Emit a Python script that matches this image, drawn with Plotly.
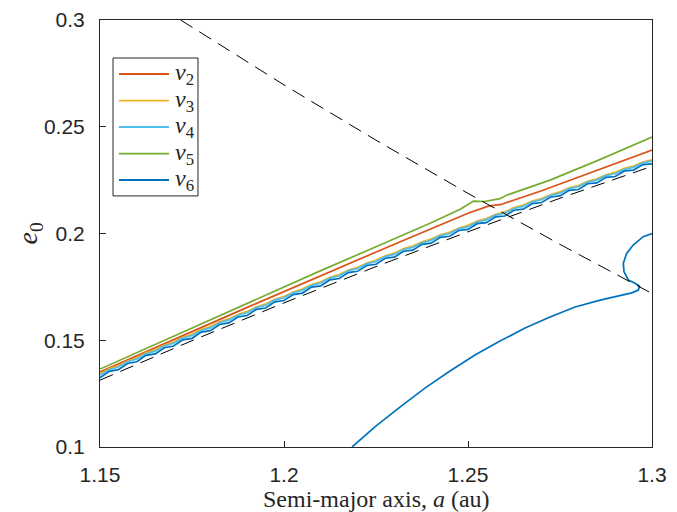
import plotly.graph_objects as go

# Semi-major axis grid for the resonance curves that follow the perihelion line
a_grid = [1.15, 1.1525, 1.155, 1.1575, 1.16, 1.1625, 1.165, 1.1675, 1.17, 1.1725,
          1.175, 1.1775, 1.18, 1.1825, 1.185, 1.1875, 1.19, 1.1925, 1.195, 1.1975,
          1.20, 1.2025, 1.205, 1.2075, 1.21, 1.2125, 1.215, 1.2175, 1.22, 1.2225,
          1.225, 1.2275, 1.23, 1.2325, 1.235, 1.2375, 1.24, 1.2425, 1.245, 1.2475,
          1.25, 1.2525, 1.255, 1.2575, 1.26, 1.2625, 1.265, 1.2675, 1.27, 1.2725,
          1.275, 1.2775, 1.28, 1.2825, 1.285, 1.2875, 1.29, 1.2925, 1.295, 1.2975, 1.30]

nu3_e = [0.1343, 0.1366, 0.1381, 0.1403, 0.1418, 0.1441, 0.1455, 0.1477, 0.1492, 0.1514,
         0.1528, 0.1550, 0.1564, 0.1586, 0.1600, 0.1621, 0.1635, 0.1657, 0.1670, 0.1692,
         0.1705, 0.1726, 0.1740, 0.1761, 0.1774, 0.1795, 0.1808, 0.1829, 0.1842, 0.1862,
         0.1875, 0.1896, 0.1908, 0.1929, 0.1941, 0.1961, 0.1974, 0.1994, 0.2006, 0.2026,
         0.2038, 0.2058, 0.2070, 0.2090, 0.2101, 0.2121, 0.2133, 0.2152, 0.2164, 0.2183,
         0.2195, 0.2214, 0.2225, 0.2245, 0.2256, 0.2275, 0.2286, 0.2305, 0.2316, 0.2335, 0.2345]

nu4_e = [0.1337, 0.1362, 0.1375, 0.1399, 0.1412, 0.1437, 0.1449, 0.1473, 0.1486, 0.1510,
         0.1522, 0.1546, 0.1558, 0.1582, 0.1594, 0.1617, 0.1629, 0.1653, 0.1664, 0.1688,
         0.1699, 0.1722, 0.1734, 0.1757, 0.1768, 0.1791, 0.1802, 0.1825, 0.1836, 0.1858,
         0.1869, 0.1892, 0.1902, 0.1925, 0.1935, 0.1957, 0.1968, 0.1990, 0.2000, 0.2022,
         0.2032, 0.2054, 0.2064, 0.2086, 0.2095, 0.2117, 0.2127, 0.2148, 0.2158, 0.2179,
         0.2189, 0.2210, 0.2219, 0.2241, 0.2250, 0.2271, 0.2280, 0.2301, 0.2310, 0.2331, 0.2339]

nu6_upper_e = [0.1324, 0.1354, 0.1362, 0.1391, 0.1399, 0.1429, 0.1436, 0.1465, 0.1473, 0.1502,
               0.1509, 0.1538, 0.1545, 0.1574, 0.1581, 0.1609, 0.1616, 0.1645, 0.1651, 0.1680,
               0.1686, 0.1714, 0.1721, 0.1749, 0.1755, 0.1783, 0.1789, 0.1817, 0.1823, 0.1850,
               0.1856, 0.1884, 0.1889, 0.1917, 0.1922, 0.1949, 0.1955, 0.1982, 0.1987, 0.2014,
               0.2019, 0.2046, 0.2051, 0.2078, 0.2082, 0.2109, 0.2114, 0.2140, 0.2145, 0.2171,
               0.2176, 0.2202, 0.2206, 0.2233, 0.2237, 0.2263, 0.2267, 0.2293, 0.2297, 0.2323, 0.2326]

# Second branch of nu6 (lower arc and hook near a = 1.3)
nu6_lower_a = [1.2185, 1.2247, 1.2315, 1.2383, 1.2451, 1.2519, 1.2587, 1.2655, 1.2723, 1.2791,
               1.2859, 1.2913, 1.2945, 1.2963, 1.2966, 1.2954, 1.2936, 1.2924, 1.2922, 1.2931,
               1.2949, 1.2976, 1.3000]
nu6_lower_e = [0.1000, 0.1094, 0.1187, 0.1276, 0.1356, 0.1431, 0.1496, 0.1557, 0.1609, 0.1656,
               0.1688, 0.1710, 0.1722, 0.1735, 0.1754, 0.1767, 0.1782, 0.1821, 0.1860, 0.1907,
               0.1946, 0.1985, 0.2000]

nu2_a = [1.15, 1.19, 1.23, 1.25, 1.2555, 1.2590, 1.2700, 1.2850, 1.30]
nu2_e = [0.1352, 0.1654, 0.1950, 0.2095, 0.2128, 0.2136, 0.2200, 0.2295, 0.2391]

nu5_a = [1.15, 1.17, 1.19, 1.21, 1.23, 1.24, 1.2480, 1.2515, 1.2545, 1.2587, 1.2606, 1.2723, 1.285, 1.30]
nu5_e = [0.1365, 0.1518, 0.1673, 0.1826, 0.1975, 0.2050, 0.2115, 0.2152, 0.2150, 0.2163, 0.2180, 0.2250, 0.2340, 0.2452]

# Dashed reference curves: constant perihelion (~1 au) and constant aphelion (~1.52 au)
peri_a = [1.15, 1.175, 1.20, 1.225, 1.25, 1.275, 1.30]
peri_e = [0.1313, 0.1498, 0.1675, 0.1845, 0.2008, 0.2165, 0.2315]
aph_a = [1.1719, 1.20, 1.225, 1.25, 1.275, 1.30]
aph_e = [0.3000, 0.2696, 0.2437, 0.2188, 0.1949, 0.1719]

labels = ["2", "3", "4", "5", "6"]
colors = ["#D95319", "#EDB120", "#4DBEEE", "#77AC30", "#0072BD"]

x_ticks = [1.15, 1.2, 1.25, 1.3]
x_ticktext = ["1.15", "1.2", "1.25", "1.3"]
y_ticks = [0.1, 0.15, 0.2, 0.25, 0.3]
y_ticktext = ["0.1", "0.15", "0.2", "0.25", "0.3"]

x_title = "Semi-major axis, <i>a</i> (au)"
y_title = "<i>e</i><sub>0</sub>"

AXIS_COLOR = "#262626"
SANS = "Liberation Sans"
SERIF = "Liberation Serif"

nu6_a = a_grid + [None] + nu6_lower_a
nu6_e = nu6_upper_e + [None] + nu6_lower_e

series = [
    (nu2_a, nu2_e),
    (a_grid, nu3_e),
    (a_grid, nu4_e),
    (nu5_a, nu5_e),
    (nu6_a, nu6_e),
]

fig = go.Figure()
for (xs, ys), lab, col in zip(series, labels, colors):
    fig.add_trace(go.Scatter(
        x=xs, y=ys, mode="lines", connectgaps=False, showlegend=False,
        line=dict(color=col, width=1.7),
        name=f"ν{lab}",
    ))

for xs, ys in [(peri_a, peri_e), (aph_a, aph_e)]:
    fig.add_trace(go.Scatter(
        x=xs, y=ys, mode="lines", showlegend=False, hoverinfo="skip",
        line=dict(color="black", width=1, dash="14px,8px"),
    ))

# Boxed legend in the upper-left corner of the axes (paper coordinates)
shapes = [dict(type="rect", xref="paper", yref="paper",
               x0=0.0236, x1=0.1775, y0=0.588, y1=0.911,
               line=dict(color=AXIS_COLOR, width=1), fillcolor="white", layer="above")]
annotations = []
legend_rows = [0.8735, 0.8110, 0.7494, 0.6869, 0.6253]
for lab, col, yr in zip(labels, colors, legend_rows):
    shapes.append(dict(type="line", xref="paper", yref="paper",
                       x0=0.0344, x1=0.125, y0=yr, y1=yr,
                       line=dict(color=col, width=1.8), layer="above"))
    annotations.append(dict(xref="paper", yref="paper", x=0.132, y=yr,
                            xanchor="left", yanchor="middle", showarrow=False,
                            text=f"<i>ν</i><sub>{lab}</sub>",
                            font=dict(family=SERIF, size=24, color=AXIS_COLOR)))

# Axis titles placed explicitly below / left of the axes
annotations.append(dict(xref="paper", yref="paper", x=0.5, y=-0.121,
                        xanchor="center", yanchor="middle", showarrow=False,
                        text=x_title, font=dict(family=SERIF, size=24, color=AXIS_COLOR)))
annotations.append(dict(xref="paper", yref="paper", x=-0.127, y=0.5,
                        xanchor="center", yanchor="middle", showarrow=False, textangle=-90,
                        text=y_title, font=dict(family=SERIF, size=28, color=AXIS_COLOR)))

axis_common = dict(
    showgrid=False, zeroline=False, showline=True, mirror=True, automargin=False,
    linecolor=AXIS_COLOR, linewidth=1, ticks="inside", ticklen=6,
    tickcolor=AXIS_COLOR, tickfont=dict(family=SANS, size=21, color=AXIS_COLOR),
)

fig.update_layout(
    width=677, height=512,
    margin=dict(l=100, r=25, t=20, b=65),
    paper_bgcolor="white", plot_bgcolor="white",
    xaxis=dict(range=[1.15, 1.3], tickvals=x_ticks, ticktext=x_ticktext,
               ticklabelstandoff=9, **axis_common),
    yaxis=dict(range=[0.1, 0.3], tickvals=y_ticks, ticktext=y_ticktext,
               ticklabelstandoff=10, **axis_common),
    shapes=shapes,
    annotations=annotations,
    showlegend=False,
)

fig.write_html("out.html")
